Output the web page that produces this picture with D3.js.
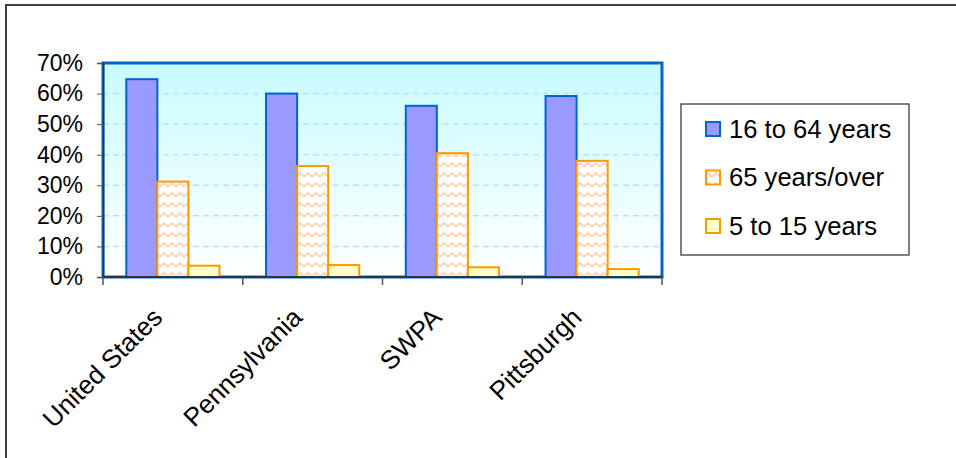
<!DOCTYPE html>
<html><head><meta charset="utf-8">
<script src="https://cdn.jsdelivr.net/npm/d3@7/dist/d3.min.js"></script>
<style>body{margin:0;background:#fff;}svg{display:block;font-family:"Liberation Sans",Arial,sans-serif;}</style>
</head><body>
<script>
const categories = ["United States","Pennsylvania","SWPA","Pittsburgh"];
const seriesNames = ["16 to 64 years","65 years/over","5 to 15 years"];
const age16to64 = [0.647,0.600,0.560,0.592];
const age65over = [0.312,0.363,0.405,0.380];
const age5to15 = [0.037,0.039,0.032,0.026];
const yTicks = [0,0.1,0.2,0.3,0.4,0.5,0.6,0.7];

const W=956,H=458;
const svg=d3.select("body").append("svg").attr("width",W).attr("height",H);
const defs=svg.append("defs");
const grad=defs.append("linearGradient").attr("id","bg").attr("x1",0).attr("y1",0).attr("x2",0).attr("y2",1);
grad.append("stop").attr("offset","0%").attr("stop-color","#C8FCFF");
grad.append("stop").attr("offset","100%").attr("stop-color","#FFFFFF");
const pat=defs.append("pattern").attr("id","wave").attr("patternUnits","userSpaceOnUse").attr("width",8).attr("height",10);
pat.append("rect").attr("width",8).attr("height",10).attr("fill","#fff");
pat.append("path").attr("d","M0,7 L4,3 L8,7").attr("fill","none").attr("stroke","#FFD0A8").attr("stroke-width",1.6);

// outer frame
svg.append("path").attr("d","M6,460 L6,5 L960,5").attr("fill","none").attr("stroke","#404040").attr("stroke-width",2);

const L=103,R=662,T=63,B=277;
const x0=d3.scaleBand().domain(categories).range([L,R]).paddingInner(0).paddingOuter(0);
const y=d3.scaleLinear().domain([0,0.7]).range([B,T]);
const bw=x0.bandwidth()/4.5;
const x1=d3.scaleBand().domain(seriesNames).range([bw*0.75,bw*3.75]);

svg.append("rect").attr("x",L).attr("y",T).attr("width",R-L).attr("height",B-T).attr("fill","url(#bg)");

// gridlines
svg.append("g").selectAll("line").data(yTicks.filter(d=>d>0&&d<0.7)).join("line")
 .attr("x1",L).attr("x2",R).attr("y1",d=>y(d)).attr("y2",d=>y(d))
 .attr("stroke","#BBDDF5").attr("stroke-width",1.5).attr("stroke-dasharray","6,4");

// border of plot
svg.append("rect").attr("x",L).attr("y",T).attr("width",R-L).attr("height",B-T).attr("fill","none").attr("stroke","#0066CC").attr("stroke-width",3);

const data=[age16to64,age65over,age5to15];
const fills=["#9999FF","url(#wave)","#FFFFCC"];
const strokes=["#0066CC","#FF9900","#FF9900"];
const g=svg.append("g");
categories.forEach((c,i)=>{
  seriesNames.forEach((s,j)=>{
    g.append("rect").attr("x",x0(c)+x1(s)).attr("width",x1.bandwidth())
     .attr("y",y(data[j][i])).attr("height",B-y(data[j][i]))
     .attr("fill",fills[j]).attr("stroke",strokes[j]).attr("stroke-width",2);
  });
});

// axes
const yAxis=d3.axisLeft(y).tickValues(yTicks).tickFormat(d3.format(".0%")).tickSize(6).tickPadding(14);
const ya=svg.append("g").attr("transform",`translate(${L},0)`).call(yAxis);
ya.select(".domain").attr("stroke","#333").attr("stroke-width",1.5);
ya.selectAll(".tick line").attr("stroke","#555");
ya.selectAll("text").attr("font-size",23).attr("fill","#000").attr("font-family","Liberation Sans, Arial, sans-serif");

const xa=svg.append("g").attr("transform",`translate(0,${B})`);
xa.append("line").attr("x1",L).attr("x2",R+1).attr("y1",0).attr("y2",0).attr("stroke","#333").attr("stroke-width",2);
const edges=categories.map(c=>x0(c)).concat([x0(categories[categories.length-1])+x0.bandwidth()]);
xa.selectAll("line.t").data(edges).join("line").attr("class","t")
 .attr("x1",d=>d).attr("x2",d=>d).attr("y1",0).attr("y2",8).attr("stroke","#555").attr("stroke-width",1.5);
xa.selectAll("text").data(categories).join("text")
 .attr("transform",d=>`translate(${x0(d)+x0.bandwidth()/2-9},${42}) rotate(-45)`)
 .attr("text-anchor","end").attr("font-size",26).attr("fill","#000").text(d=>d);

// legend
const lg=svg.append("g");
lg.append("rect").attr("x",681).attr("y",104).attr("width",228).attr("height",151).attr("fill","#fff").attr("stroke","#555").attr("stroke-width",1.5);
const legFills=["#9999FF","url(#wave)","#FFFFCC"];
seriesNames.forEach((s,j)=>{
  const cy=129+j*48.5;
  lg.append("rect").attr("x",706).attr("y",cy-7).attr("width",14).attr("height",14)
   .attr("fill",legFills[j]).attr("stroke",strokes[j]).attr("stroke-width",2);
  lg.append("text").attr("x",729).attr("y",cy+8.5).attr("font-size",25.6).attr("fill","#000").text(s);
});
</script>
</body></html>
